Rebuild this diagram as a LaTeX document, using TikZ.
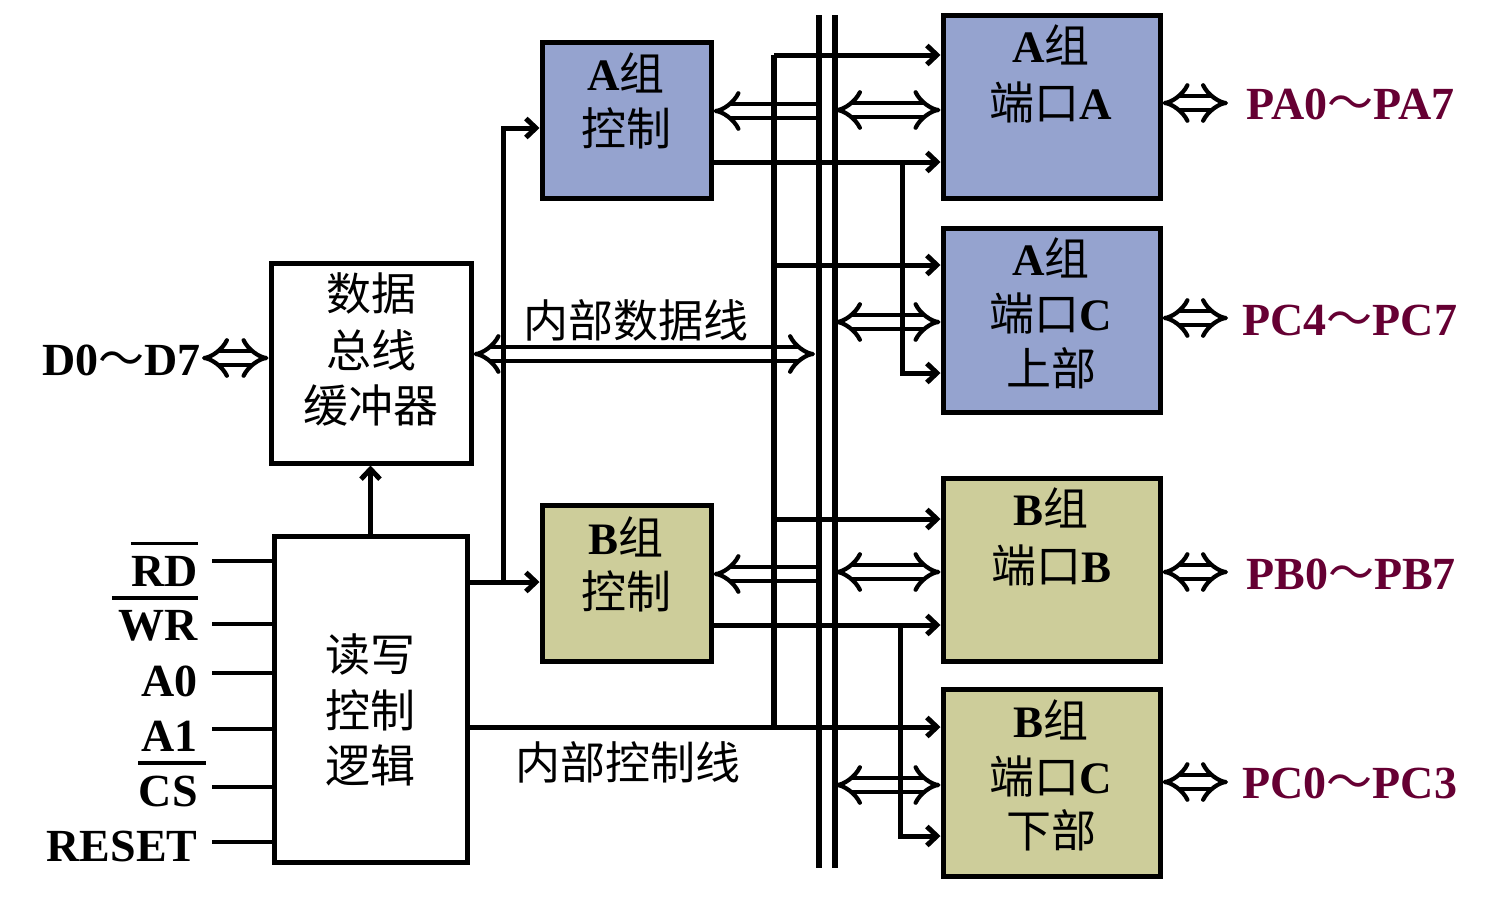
\documentclass[tikz,border=0pt]{standalone}
\usepackage{fontspec}
\setmainfont{Liberation Serif}
\newfontfamily\cjk{Noto Sans CJK SC}
\usetikzlibrary{arrows.meta}
\definecolor{ablue}{HTML}{95A3CF}
\definecolor{bkhaki}{HTML}{CDCD9A}
\definecolor{plabel}{HTML}{660033}
\newcommand{\zhs}[1]{{\cjk #1}}
\newcommand{\tld}{{\cjk\mdseries ～}}
\begin{document}
\begin{tikzpicture}[x=0.5pt,y=-0.5pt,
  every node/.style={inner sep=0pt},
  box/.style={draw, line width=2.5pt, inner sep=0pt},
  txt/.style={font=\fontsize{22.5}{26}\selectfont},
  btxt/.style={font=\fontsize{23}{27}\selectfont\bfseries},
  plab/.style={font=\fontsize{23}{27}\selectfont\bfseries, text=plabel},
  ln/.style={line width=2.6pt},
  inl/.style={line width=2.3pt},
  arr/.style={line width=2.5pt, -{Straight Barb[length=5pt,width=9.5pt]}},
  dblboth/.style={double, double distance=4.6pt, line width=2.1pt, {Implies}-{Implies}},
  dblend/.style={double, double distance=4.6pt, line width=2.1pt, -{Implies}}
]
\fill[white] (0,0) rectangle (1500,900);
\useasboundingbox (0,0) rectangle (1500,900);

% boxes
\node[box, minimum width=100pt, minimum height=100pt] (buf) at (371,363) {};
\node[box, minimum width=96.5pt, minimum height=163pt] (logic) at (370.5,699) {};
\node[box, fill=ablue, minimum width=84.5pt, minimum height=78pt] (actl) at (626.5,120) {};
\node[box, fill=bkhaki, minimum width=84.5pt, minimum height=78pt] (bctl) at (626.5,583) {};
\node[box, fill=ablue, minimum width=108.5pt, minimum height=91.5pt] (pa) at (1051.5,106.5) {};
\node[box, fill=ablue, minimum width=108.5pt, minimum height=92pt] (pcu) at (1051.5,320) {};
\node[box, fill=bkhaki, minimum width=108.5pt, minimum height=91.5pt] (pb) at (1051.5,569.5) {};
\node[box, fill=bkhaki, minimum width=108.5pt, minimum height=93.5pt] (pcl) at (1051.5,782.5) {};

% box texts
\node[txt] (buf1) at (371,293) {\zhs{数据}};
\node[txt] (buf2) at (371,350) {\zhs{总线}};
\node[txt] (buf3) at (371,405) {\zhs{缓冲器}};
\node[txt] (lg1) at (370,655) {\zhs{读写}};
\node[txt] (lg2) at (370,710) {\zhs{控制}};
\node[txt] (lg3) at (370,765) {\zhs{逻辑}};
\node[txt] (ac1) at (626,73) {\textbf{A}\zhs{组}};
\node[txt] (ac2) at (626,128) {\zhs{控制}};
\node[txt] (bc1) at (626,537) {\textbf{B}\zhs{组}};
\node[txt] (bc2) at (626,591) {\zhs{控制}};
\node[txt] (pa1) at (1051,45) {\textbf{A}\zhs{组}};
\node[txt] (pa2) at (1051,102) {\zhs{端口}\textbf{A}};
\node[txt] (pcu1) at (1051,258) {\textbf{A}\zhs{组}};
\node[txt] (pcu2) at (1051,313) {\zhs{端口}\textbf{C}};
\node[txt] (pcu3) at (1051,368) {\zhs{上部}};
\node[txt] (pb1) at (1051,508) {\textbf{B}\zhs{组}};
\node[txt] (pb2) at (1051,565) {\zhs{端口}\textbf{B}};
\node[txt] (pcl1) at (1051,720) {\textbf{B}\zhs{组}};
\node[txt] (pcl2) at (1051,776) {\zhs{端口}\textbf{C}};
\node[txt] (pcl3) at (1051,830) {\zhs{下部}};

% bus labels
\node[txt] (dbus) at (636,320) {\zhs{内部数据线}};
\node[txt] (cbus) at (628,762) {\zhs{内部控制线}};

% double arrows
\draw[dblboth] (buf.east |- 0,354) -- (815,354);
\draw[dblboth] (202,358) -- (buf.west |- 0,358);
\draw[dblend] (819,111) -- (actl.east |- 0,111);
\draw[dblend] (819,574) -- (bctl.east |- 0,574);
\draw[dblboth] (835,110) -- (pa.west |- 0,110);
\draw[dblboth] (835,322) -- (pcu.west |- 0,322);
\draw[dblboth] (835,572) -- (pb.west |- 0,572);
\draw[dblboth] (835,785) -- (pcl.west |- 0,785);
\draw[dblboth] (pa.east |- 0,103) -- (1228,103);
\draw[dblboth] (pcu.east |- 0,318) -- (1228,318);
\draw[dblboth] (pb.east |- 0,572) -- (1228,572);
\draw[dblboth] (pcl.east |- 0,782) -- (1228,782);

% bus lines
\coordinate (b1t) at (819,15);
\coordinate (b1b) at (819,868);
\coordinate (b2t) at (835,15);
\coordinate (b2b) at (835,868);
\coordinate (ct) at (774,55);
\coordinate (cb) at (774,727);
\draw[ln] (b1t) -- (b1b);
\draw[ln] (b2t) -- (b2b);
\draw[ln] (ct) -- (cb);

% control lines
\draw[arr] (ct) -- (pa.west |- ct);
\draw[arr] (774,265) -- (pcu.west |- 0,265);
\draw[arr] (774,519) -- (pb.west |- 0,519);
\draw[arr] (logic.east |- cb) -- (pcl.west |- cb);
\draw[arr] (actl.east |- 0,162) -- (pa.west |- 0,162);
\draw[arr] (902,162) -- (902,373) -- (pcu.west |- 0,373);
\draw[arr] (bctl.east |- 0,625) -- (pb.west |- 0,625);
\draw[arr] (900,625) -- (900,836) -- (pcl.west |- 0,836);
\draw[arr] (logic.east |- 0,582) -- (bctl.west |- 0,582);
\draw[arr] (503,582) -- (503,128) -- (actl.west |- 0,128);
\draw[arr] (logic.north) -- (logic.north |- buf.south);

% inputs
\draw[inl] (212,561) -- (logic.west |- 0,561);
\draw[inl] (212,624) -- (logic.west |- 0,624);
\draw[inl] (212,673) -- (logic.west |- 0,673);
\draw[inl] (212,729) -- (logic.west |- 0,729);
\draw[inl] (212,787) -- (logic.west |- 0,787);
\draw[inl] (212,842) -- (logic.west |- 0,842);

\node[btxt, anchor=east] (rd) at (198,571) {RD};
\node[btxt, anchor=east] (wr) at (198,626) {WR};
\node[btxt, anchor=east] (a0) at (198,681) {A0};
\node[btxt, anchor=east] (a1) at (198,736) {A1};
\node[btxt, anchor=east] (cs) at (198,791) {CS};
\node[btxt, anchor=east] (rst) at (198,846) {RESET};
\draw[line width=1.9pt] ([yshift=6pt]rd.north west) -- ([yshift=6pt]rd.north east);
\draw[line width=1.9pt] ([xshift=-3pt,yshift=6pt]wr.north west) -- ([yshift=6pt]wr.north east);
\draw[line width=1.9pt] ([yshift=6pt]cs.north west) -- ([xshift=4pt,yshift=6pt]cs.north east);

\node[btxt, anchor=east] (dlab) at (201,360) {D0\tld D7};

\node[plab, anchor=west] (lpa) at (1246,104) {PA0\tld PA7};
\node[plab, anchor=west] (lpc1) at (1242,320) {PC4\tld PC7};
\node[plab, anchor=west] (lpb) at (1246,574) {PB0\tld PB7};
\node[plab, anchor=west] (lpc0) at (1242,783) {PC0\tld PC3};
\end{tikzpicture}
\end{document}
